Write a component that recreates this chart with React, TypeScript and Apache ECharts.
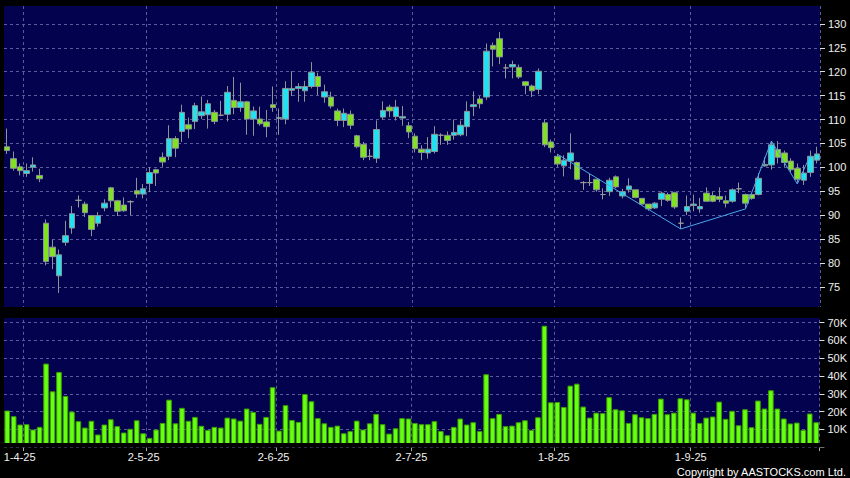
import React, { useEffect, useRef } from "react";
import * as echarts from "echarts";

// Trading dates (d-m-yy)
const dates = [
  "27-3-25", "28-3-25", "31-3-25",
  "1-4-25", "2-4-25", "3-4-25", "7-4-25", "8-4-25", "9-4-25", "10-4-25", "11-4-25",
  "14-4-25", "15-4-25", "16-4-25", "17-4-25", "22-4-25", "23-4-25", "24-4-25", "25-4-25",
  "28-4-25", "29-4-25", "30-4-25",
  "2-5-25", "6-5-25", "7-5-25", "8-5-25", "9-5-25", "12-5-25", "13-5-25", "14-5-25",
  "15-5-25", "16-5-25", "19-5-25", "20-5-25", "21-5-25", "22-5-25", "23-5-25", "26-5-25",
  "27-5-25", "28-5-25", "29-5-25", "30-5-25",
  "2-6-25", "3-6-25", "4-6-25", "5-6-25", "6-6-25", "9-6-25", "10-6-25", "11-6-25",
  "12-6-25", "13-6-25", "16-6-25", "17-6-25", "18-6-25", "19-6-25", "20-6-25", "23-6-25",
  "24-6-25", "25-6-25", "26-6-25", "27-6-25", "30-6-25",
  "2-7-25", "3-7-25", "4-7-25", "7-7-25", "8-7-25", "9-7-25", "10-7-25", "11-7-25",
  "14-7-25", "15-7-25", "16-7-25", "17-7-25", "18-7-25", "21-7-25", "22-7-25", "23-7-25",
  "24-7-25", "25-7-25", "28-7-25", "29-7-25", "30-7-25", "31-7-25",
  "1-8-25", "4-8-25", "5-8-25", "6-8-25", "7-8-25", "8-8-25", "11-8-25", "12-8-25",
  "13-8-25", "14-8-25", "15-8-25", "18-8-25", "19-8-25", "20-8-25", "21-8-25", "22-8-25",
  "25-8-25", "26-8-25", "27-8-25", "28-8-25", "29-8-25",
  "1-9-25", "2-9-25", "3-9-25", "4-9-25", "5-9-25", "8-9-25", "9-9-25", "10-9-25",
  "11-9-25", "12-9-25", "15-9-25", "16-9-25", "17-9-25", "18-9-25", "19-9-25", "22-9-25",
  "23-9-25", "24-9-25", "25-9-25", "26-9-25",
];

const labelDates = ["1-4-25", "2-5-25", "2-6-25", "2-7-25", "1-8-25", "1-9-25"];

// [open, close, low, high]
const candles = [
  [104.3, 103.5, 102.8, 108.1], [101.8, 99.8, 99.3, 103.3], [100.1, 99.3, 98.3, 100.8],
  [98.7, 99.3, 98.0, 100.8], [100.0, 100.5, 99.1, 102.1], [98.3, 97.6, 96.9, 99.7],
  [88.3, 80.3, 79.5, 89.1], [83.3, 81.3, 78.7, 84.9], [77.3, 81.7, 73.7, 82.8],
  [84.3, 85.7, 83.6, 88.8], [87.3, 90.3, 86.1, 91.9], [93.1, 93.1, 91.6, 94.1],
  [92.3, 90.5, 89.6, 92.8], [89.9, 87.0, 85.6, 90.0], [88.3, 89.9, 87.6, 90.6],
  [91.5, 92.5, 90.8, 93.3], [95.7, 93.0, 91.6, 95.9], [93.0, 90.8, 89.8, 93.2],
  [92.1, 90.9, 90.7, 93.7], [92.8, 92.8, 90.0, 93.1], [95.1, 94.4, 93.6, 97.8],
  [94.4, 95.5, 93.5, 96.5], [96.6, 98.9, 94.8, 100.0], [99.5, 98.8, 96.1, 99.7],
  [102.1, 101.1, 100.1, 103.1], [102.3, 106.0, 101.5, 108.8], [106.0, 104.0, 102.1, 106.5],
  [107.5, 111.5, 105.3, 113.1], [108.9, 108.0, 106.1, 110.4], [109.6, 112.9, 108.0, 113.5],
  [110.8, 111.6, 110.1, 114.8], [111.0, 113.3, 108.1, 114.1], [111.5, 109.6, 109.0, 112.0],
  [110.9, 110.9, 110.7, 113.9], [111.1, 115.7, 109.6, 117.0], [114.0, 112.5, 111.1, 118.9],
  [112.5, 113.7, 111.6, 117.7], [113.7, 110.1, 106.8, 113.9], [110.1, 111.8, 106.6, 112.7],
  [110.1, 109.1, 108.7, 112.7], [109.5, 108.5, 106.3, 112.0], [113.1, 112.5, 111.6, 116.9],
  [110.2, 110.4, 106.8, 112.3], [110.1, 116.5, 109.0, 118.0], [116.1, 116.5, 114.9, 120.1],
  [116.5, 116.9, 113.7, 117.6], [116.0, 116.9, 113.7, 118.1], [116.9, 119.9, 116.5, 122.0],
  [119.0, 116.9, 115.1, 119.8], [114.7, 115.8, 113.5, 117.3], [114.7, 112.8, 112.3, 115.8],
  [111.8, 109.8, 108.6, 112.3], [109.8, 111.3, 108.4, 112.3], [111.1, 108.8, 108.0, 111.9],
  [106.6, 104.3, 104.0, 106.8], [104.8, 102.1, 101.5, 105.3], [102.3, 102.3, 101.5, 103.8],
  [101.9, 107.9, 100.9, 109.8], [110.5, 111.9, 110.0, 113.8], [112.6, 111.8, 110.5, 113.1],
  [110.6, 112.6, 109.8, 114.1], [110.3, 110.6, 108.7, 112.8], [108.7, 107.4, 106.1, 109.5],
  [106.5, 103.9, 103.1, 107.1], [103.8, 103.1, 101.5, 104.6], [103.0, 103.8, 101.8, 106.3],
  [103.3, 106.9, 102.9, 108.6], [106.7, 106.7, 104.7, 107.1], [106.7, 105.6, 104.7, 107.5],
  [106.7, 107.3, 105.8, 110.0], [106.8, 108.8, 106.5, 109.8], [108.5, 111.7, 106.5, 113.8],
  [112.7, 113.1, 110.7, 115.9], [114.3, 113.3, 112.3, 114.9], [114.7, 124.3, 114.1, 125.9],
  [125.5, 124.7, 121.1, 126.1], [126.9, 123.1, 121.6, 128.3], [120.8, 120.8, 118.6, 121.6],
  [121.0, 121.5, 118.6, 122.3], [120.9, 118.9, 118.5, 121.5], [117.9, 117.1, 115.3, 118.0],
  [117.0, 116.0, 114.7, 117.3], [116.3, 120.1, 115.3, 120.7], [109.3, 104.7, 104.2, 110.0],
  [105.3, 104.1, 103.1, 105.8], [102.3, 100.7, 100.1, 102.8], [100.3, 101.5, 98.1, 102.5],
  [101.3, 103.0, 99.6, 107.1], [101.0, 97.5, 97.3, 101.2], [96.8, 96.8, 95.3, 97.1],
  [96.8, 96.8, 96.1, 98.6], [97.5, 95.3, 94.9, 97.6], [94.3, 94.3, 93.3, 95.6],
  [94.9, 97.3, 94.0, 97.8], [98.0, 95.9, 95.6, 98.3], [94.0, 94.9, 93.5, 95.5],
  [95.3, 96.1, 94.7, 97.7], [95.3, 93.7, 93.5, 95.3], [93.5, 92.3, 92.2, 93.5],
  [92.3, 91.3, 90.9, 92.3], [91.5, 92.5, 91.3, 92.7], [93.3, 94.6, 91.9, 94.9],
  [94.3, 93.1, 92.8, 94.7], [94.7, 91.7, 91.3, 94.9], [88.3, 88.3, 87.1, 89.5],
  [90.8, 91.8, 90.0, 94.1], [92.0, 92.3, 90.8, 94.3], [91.3, 91.8, 90.5, 93.6],
  [94.6, 92.9, 92.8, 95.8], [94.1, 92.9, 92.7, 94.8], [93.9, 93.3, 92.7, 95.8],
  [93.0, 92.5, 91.6, 94.1], [92.9, 95.3, 92.6, 95.6], [95.5, 95.5, 94.6, 96.8],
  [94.3, 92.5, 91.5, 94.5], [94.3, 93.5, 93.2, 94.5], [94.3, 97.7, 94.1, 98.8],
  [100.3, 100.6, 100.1, 102.1], [100.5, 104.7, 99.5, 105.5], [103.7, 102.1, 100.8, 105.5],
  [103.0, 101.0, 100.1, 103.5], [101.3, 99.5, 99.0, 101.9], [99.8, 97.5, 96.8, 100.8],
  [97.3, 98.8, 96.3, 100.5], [98.9, 102.3, 98.0, 103.5], [101.5, 102.8, 100.8, 104.3],
];

// Volume in thousands of shares
const volumes = [
  20.6, 17.4, 12.7, 12.9, 9.9, 11.4, 47.0, 31.4, 42.3, 28.8,
  20.0, 14.6, 11.0, 14.8, 7.1, 12.7, 15.7, 11.8, 8.2, 10.3,
  15.1, 7.8, 5.2, 9.9, 13.6, 26.7, 13.4, 22.1, 14.8, 17.0,
  12.0, 9.7, 11.4, 11.0, 16.6, 16.1, 14.9, 21.7, 19.8, 13.1,
  17.0, 33.7, 9.3, 23.6, 15.3, 14.2, 29.9, 25.8, 16.3, 13.4,
  11.4, 12.1, 7.8, 9.0, 14.9, 9.9, 13.4, 18.7, 12.9, 7.6,
  10.6, 16.3, 16.1, 13.6, 12.9, 12.9, 14.6, 9.1, 6.7, 11.4,
  16.1, 12.7, 14.0, 9.0, 41.0, 16.3, 18.7, 11.8, 12.1, 14.0,
  15.1, 9.7, 16.8, 68.3, 25.2, 25.4, 22.6, 34.6, 35.7, 22.8,
  16.6, 19.4, 19.1, 28.1, 21.3, 20.7, 13.6, 18.5, 16.8, 16.3,
  18.7, 27.3, 18.5, 19.4, 27.5, 26.9, 19.4, 13.6, 16.6, 17.2,
  25.6, 15.9, 20.4, 12.3, 21.3, 11.2, 26.2, 21.7, 32.0, 21.7,
  16.1, 13.3, 13.8, 9.7, 18.9, 14.0,
];

// Zig-zag overlay points [date, price]
const zigzag = [
  ["1-8-25", 102.7], ["28-8-25", 87.1], ["11-9-25", 91.3],
  ["17-9-25", 105.5], ["23-9-25", 96.5], ["25-9-25", 102.5],
];

const NAVY = "#02024f";
const GRID_LINE = "#5a5a9c";
const TEXT = "#f0f0f0";
const FONT = "'Liberation Sans', Arial, sans-serif";
const labelPad = [14, 12, 11, 7, 7, 5];

const isLabel = (_i: number, v: string) => labelDates.indexOf(v) >= 0;

const rich: Record<string, any> = {};
labelPad.forEach((p, k) => {
  rich["s" + k] = { padding: [0, p, 0, 0], color: TEXT, fontSize: 11, fontFamily: FONT };
});

const splitLine = {
  show: true,
  interval: isLabel,
  lineStyle: { color: GRID_LINE, type: [3, 3], width: 1 },
};

export default function App() {
  const ref = useRef<HTMLDivElement>(null);
  useEffect(() => {
    const chart = echarts.init(ref.current!, undefined, { renderer: "svg" });
    const option: any = {
      animation: false,
      backgroundColor: "#000000",
      textStyle: { fontFamily: FONT },
      grid: [
        { left: 4, right: 30, top: -14.3, height: 325, show: true, backgroundColor: NAVY, borderWidth: 0 },
        { left: 4, right: 30, top: 313.8, height: 133.3, show: true, backgroundColor: NAVY, borderWidth: 0 },
      ],
      xAxis: [
        {
          type: "category", gridIndex: 0, data: dates, boundaryGap: true,
          axisLine: { show: false }, axisTick: { show: false }, axisLabel: { show: false },
          splitLine,
        },
        {
          type: "category", gridIndex: 1, data: dates, boundaryGap: true,
          axisLine: { show: false },
          axisTick: { show: true, interval: isLabel, length: 4, lineStyle: { color: "#aaaaaa" } },
          axisLabel: {
            interval: isLabel, margin: 4, color: TEXT, fontSize: 11, fontFamily: FONT,
            formatter: (v: string) => `{s${labelDates.indexOf(v)}|${v}}`,
            rich,
          },
          splitLine,
        },
      ],
      yAxis: [
        {
          type: "value", gridIndex: 0, position: "right", min: 70, max: 135, interval: 5,
          axisLine: { show: false },
          axisTick: { show: true, length: 5, lineStyle: { color: "#dddddd" } },
          axisLabel: {
            color: TEXT, fontSize: 11, fontFamily: FONT, margin: 8,
            formatter: (v: number) => (v >= 75 && v <= 130 ? String(v) : ""),
          },
          splitLine: { show: true, lineStyle: { color: GRID_LINE, type: [3, 3], width: 1 } },
        },
        {
          type: "value", gridIndex: 1, position: "right", min: 0, max: 75, interval: 10,
          axisLine: { show: false },
          axisTick: { show: true, length: 5, lineStyle: { color: "#dddddd" } },
          axisLabel: {
            color: TEXT, fontSize: 11, fontFamily: FONT, margin: 8,
            formatter: (v: number) => (v > 0 && v <= 70 && v % 10 === 0 ? v + "K" : ""),
          },
          splitLine: { show: true, lineStyle: { color: GRID_LINE, type: [3, 3], width: 1 } },
        },
      ],
      series: [
        {
          type: "candlestick", xAxisIndex: 0, yAxisIndex: 0, data: candles, barWidth: 6,
          itemStyle: {
            color: "#22e2f2", color0: "#80e220",
            borderColor: "#8a9494", borderColor0: "#8a9494", borderColorDoji: "#9a9a9a",
            borderWidth: 1,
          },
        },
        {
          type: "line", xAxisIndex: 0, yAxisIndex: 0, data: zigzag, symbol: "none",
          lineStyle: { color: "#4aa8ea", width: 1 }, z: 3,
        },
        {
          type: "bar", xAxisIndex: 1, yAxisIndex: 1, data: volumes, barWidth: 5.6,
          itemStyle: { color: "#66ff11", borderColor: "#3c9c00", borderWidth: 1 },
        },
      ],
      graphic: [
        { type: "rect", z: 100, shape: { x: 0, y: 0, width: 826, height: 6 }, style: { fill: "#000" } },
        { type: "rect", z: 100, shape: { x: 0, y: 307, width: 826, height: 11 }, style: { fill: "#000" } },
        { type: "rect", z: 100, shape: { x: 0, y: 443, width: 826, height: 4.6 }, style: { fill: "#000" } },
        {
          type: "text", z: 100, x: 846, y: 472,
          style: {
            text: "Copyright by AASTOCKS.com Ltd.", fill: "#ffffff", fontSize: 11,
            fontFamily: FONT, textAlign: "right", textVerticalAlign: "middle",
          },
        },
      ],
    };
    chart.setOption(option);
    return () => chart.dispose();
  }, []);
  return (
    <div
      ref={ref}
      style={{ position: "fixed", left: 0, top: 0, width: 850, height: 478, background: "#000" }}
    />
  );
}
